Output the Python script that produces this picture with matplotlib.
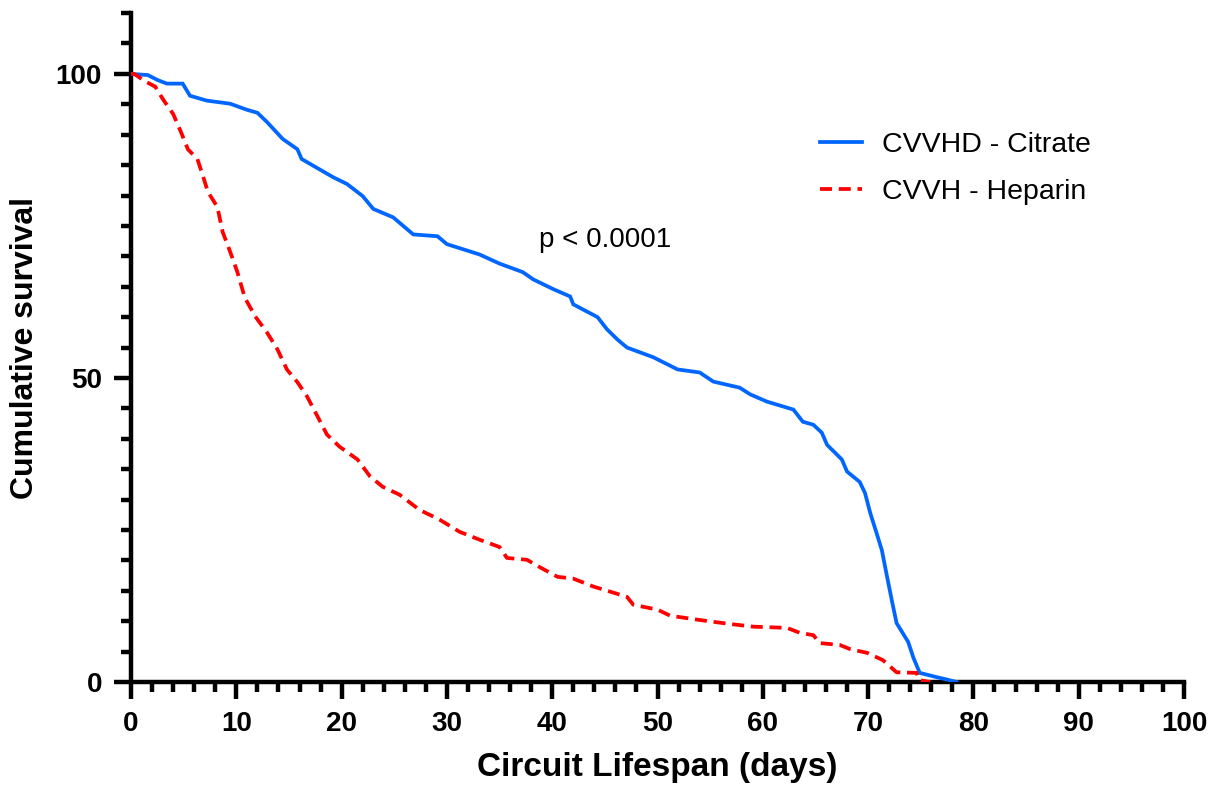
import matplotlib
matplotlib.use("Agg")
import matplotlib.pyplot as plt
from matplotlib.ticker import MultipleLocator

plt.rcParams['font.family'] = ['Liberation Sans', 'DejaVu Sans']

# CVVHD - Citrate (blue, solid)
citrate_days = [0, 1.6, 2.5, 3.4, 4.9, 5.6, 7.2, 9.4, 11.0, 12.0, 12.9, 14.4, 15.8, 16.2,
                17.9, 19.2, 20.5, 22.0, 23.0, 24.9, 26.8, 29.1, 30.0, 33.1, 35.0, 37.2,
                38.2, 40.1, 41.7, 42.0, 44.3, 45.2, 46.2, 47.1, 49.6, 51.9, 54.0, 55.3,
                57.8, 58.8, 60.4, 62.9, 63.8, 64.8, 65.6, 66.1, 67.5, 68.0, 69.2, 69.7,
                70.2, 70.8, 71.3, 71.8, 72.3, 72.7, 73.8, 74.3, 74.9, 75.6, 76.5, 77.5, 78.4]
citrate_surv = [100, 99.8, 99.0, 98.4, 98.4, 96.4, 95.6, 95.1, 94.1, 93.6, 92.1, 89.3, 87.6, 86.0,
                84.3, 83.0, 81.9, 79.9, 77.8, 76.4, 73.6, 73.3, 72.0, 70.3, 68.8, 67.4,
                66.2, 64.6, 63.4, 62.1, 60.0, 58.0, 56.3, 55.0, 53.4, 51.4, 50.9, 49.4,
                48.4, 47.3, 46.1, 44.8, 42.8, 42.3, 41.0, 39.0, 36.6, 34.6, 32.9, 31.1,
                27.8, 24.5, 21.7, 17.3, 13.0, 9.7, 6.6, 4.0, 1.5, 1.2, 0.8, 0.4, 0]

# CVVH - Heparin (red, dashed)
heparin_days = [0, 0.3, 1.3, 2.3, 3.0, 4.0, 4.7, 5.4, 6.3, 6.7, 7.3, 8.2, 8.7, 9.4, 10.1,
                10.8, 11.8, 12.9, 13.9, 14.8, 15.8, 16.7, 17.7, 18.6, 19.8, 21.5, 22.7,
                23.9, 25.5, 27.4, 29.3, 31.2, 33.1, 35.0, 35.7, 37.6, 38.8, 40.5, 42.0,
                43.9, 45.8, 47.1, 47.7, 50.0, 51.2, 54.0, 56.6, 59.1, 62.3, 63.5, 64.8,
                65.4, 67.3, 68.3, 69.9, 71.4, 72.7, 74.6, 74.9, 75.9]
heparin_surv = [100, 100, 98.8, 97.9, 95.9, 93.4, 90.6, 87.6, 86.0, 83.9, 80.6, 78.1, 74.0, 70.8, 67.4,
                63.2, 60.1, 57.5, 54.7, 51.4, 49.3, 47.0, 43.7, 40.7, 38.7, 36.6, 33.8,
                32.1, 30.8, 28.3, 26.7, 24.7, 23.4, 22.2, 20.4, 20.1, 18.9, 17.3, 17.0,
                15.7, 14.7, 14.0, 12.7, 11.9, 10.9, 10.2, 9.6, 9.1, 8.9, 8.1, 7.7,
                6.4, 6.1, 5.4, 4.8, 3.6, 1.6, 1.5, 0.3, 0]

series_labels = ["CVVHD - Citrate", "CVVH - Heparin"]
x_ticks = [0, 10, 20, 30, 40, 50, 60, 70, 80, 90, 100]
y_ticks = [0, 50, 100]

fig = plt.figure(figsize=(12.18, 7.87), dpi=100)
ax = fig.add_axes([0.1076, 0.1334, 0.8645, 0.850])

ax.plot(citrate_days, citrate_surv, color='#0066FF', lw=2.7, label=series_labels[0],
        solid_joinstyle='miter', zorder=3)
ax.plot(heparin_days, heparin_surv, color='#FF0000', lw=2.7, linestyle=(0, (3.2, 1.8)),
        label=series_labels[1], zorder=3)

ax.set_xlim(0, 100)
ax.set_ylim(0, 110)
ax.set_xticks(x_ticks)
ax.set_yticks(y_ticks)
ax.xaxis.set_minor_locator(MultipleLocator(2))
ax.yaxis.set_minor_locator(MultipleLocator(5))

for s in ['top', 'right']:
    ax.spines[s].set_visible(False)
for s in ['left', 'bottom']:
    ax.spines[s].set_linewidth(3.2)
    ax.spines[s].set_capstyle('projecting')

ax.tick_params(which='major', length=12, width=3.2, pad=9, labelsize=20)
ax.tick_params(which='minor', length=7, width=3.2)
for lab in ax.get_xticklabels() + ax.get_yticklabels():
    lab.set_fontweight('bold')

ax.set_xlabel("Circuit Lifespan (days)", fontsize=24, fontweight='bold', labelpad=11)
ax.set_ylabel("Cumulative survival", fontsize=23, fontweight='bold', labelpad=11)

ax.text(38.7, 71.5, "p < 0.0001", fontsize=20, va='baseline', ha='left')

leg = ax.legend(loc='upper left', bbox_to_anchor=(0.654, 0.822), frameon=False,
                fontsize=20.5, handlelength=1.5, handletextpad=0.7, labelspacing=0.72,
                borderpad=0, borderaxespad=0)

fig.savefig("out.png", dpi=100)
